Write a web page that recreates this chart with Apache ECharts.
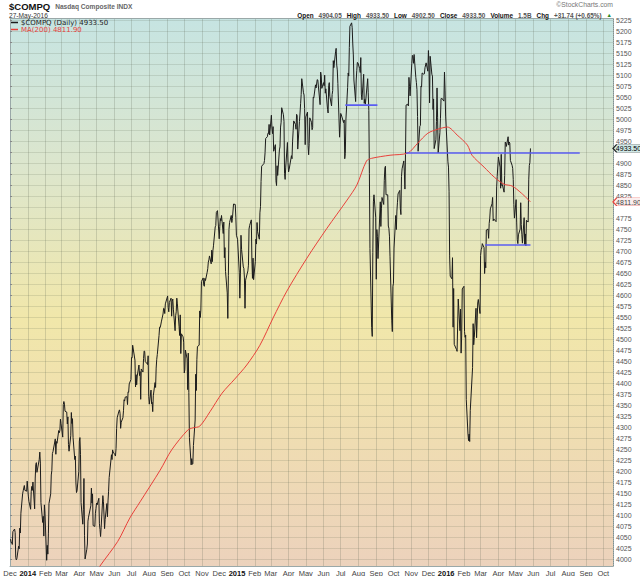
<!DOCTYPE html>
<html><head><meta charset="utf-8">
<script src="https://cdn.jsdelivr.net/npm/echarts@6/dist/echarts.min.js"></script>
<style>html,body{margin:0;padding:0;background:#fff}#c{width:640px;height:576px}</style>
</head><body><div id="c"></div>
<script>
// Daily closes ($COMPQ), [month-day, close]
const close2013 = [['12-02',4045],['12-03',4037],['12-04',4038],['12-05',4033],['12-06',4062],['12-09',4068],['12-10',4060],['12-11',4003],['12-12',3998],['12-13',4001],['12-16',4029],['12-17',4023],['12-18',4070],['12-19',4059],['12-20',4104],['12-23',4148],['12-24',4155],['12-26',4167],['12-27',4156],['12-30',4154],['12-31',4177]];
const close2014 = [
['01-02',4143],['01-03',4131],['01-06',4113],['01-07',4153],['01-08',4165],['01-09',4156],['01-10',4175],['01-13',4114],['01-14',4184],['01-15',4215],['01-16',4219],['01-17',4197],['01-21',4226],['01-22',4243],['01-23',4218],['01-24',4128],['01-27',4083],['01-28',4097],['01-29',4052],['01-30',4123],['01-31',4104],
['02-03',3997],['02-04',4031],['02-05',4011],['02-06',4057],['02-07',4126],['02-10',4148],['02-11',4191],['02-12',4201],['02-13',4240],['02-14',4244],['02-18',4273],['02-19',4238],['02-20',4267],['02-21',4263],['02-24',4292],['02-25',4287],['02-26',4292],['02-27',4318],['02-28',4308],
['03-03',4277],['03-04',4351],['03-05',4358],['03-06',4352],['03-07',4336],['03-10',4334],['03-11',4307],['03-12',4323],['03-13',4260],['03-14',4245],['03-17',4280],['03-18',4333],['03-19',4308],['03-20',4319],['03-21',4276],['03-24',4226],['03-25',4234],['03-26',4173],['03-27',4151],['03-28',4155],['03-31',4199],
['04-01',4268],['04-02',4276],['04-03',4237],['04-04',4128],['04-07',4079],['04-08',4113],['04-09',4183],['04-10',4054],['04-11',4000],['04-14',4022],['04-15',4034],['04-16',4086],['04-17',4095],['04-21',4121],['04-22',4161],['04-23',4127],['04-24',4148],['04-25',4076],['04-28',4074],['04-29',4104],['04-30',4115],
['05-01',4127],['05-02',4123],['05-05',4138],['05-06',4080],['05-07',4067],['05-08',4051],['05-09',4071],['05-12',4144],['05-13',4130],['05-14',4100],['05-15',4069],['05-16',4090],['05-19',4126],['05-20',4096],['05-21',4132],['05-22',4154],['05-23',4185],['05-27',4237],['05-28',4226],['05-29',4248],['05-30',4243],
['06-02',4237],['06-03',4234],['06-04',4251],['06-05',4297],['06-06',4321],['06-09',4336],['06-10',4339],['06-11',4331],['06-12',4297],['06-13',4311],['06-16',4321],['06-17',4337],['06-18',4362],['06-19',4359],['06-20',4368],['06-23',4369],['06-24',4351],['06-25',4380],['06-26',4379],['06-27',4398],['06-30',4408],
['07-01',4458],['07-02',4457],['07-03',4486],['07-07',4452],['07-08',4391],['07-09',4419],['07-10',4396],['07-11',4416],['07-14',4441],['07-15',4417],['07-16',4426],['07-17',4363],['07-18',4432],['07-21',4425],['07-22',4456],['07-23',4473],['07-24',4472],['07-25',4449],['07-28',4444],['07-29',4442],['07-30',4462],['07-31',4370],
['08-01',4352],['08-04',4384],['08-05',4353],['08-06',4356],['08-07',4335],['08-08',4371],['08-11',4401],['08-12',4390],['08-13',4434],['08-14',4454],['08-15',4465],['08-18',4508],['08-19',4527],['08-20',4526],['08-21',4532],['08-22',4539],['08-25',4557],['08-26',4570],['08-27',4569],['08-28',4558],['08-29',4580],
['09-02',4598],['09-03',4572],['09-04',4562],['09-05',4583],['09-08',4593],['09-09',4552],['09-10',4586],['09-11',4591],['09-12',4568],['09-15',4519],['09-16',4553],['09-17',4562],['09-18',4593],['09-19',4580],['09-22',4528],['09-23',4508],['09-24',4555],['09-25',4467],['09-26',4512],['09-29',4505],['09-30',4493],
['10-01',4423],['10-02',4430],['10-03',4475],['10-06',4455],['10-07',4385],['10-08',4468],['10-09',4379],['10-10',4276],['10-13',4214],['10-14',4228],['10-15',4215],['10-16',4217],['10-17',4258],['10-20',4316],['10-21',4420],['10-22',4383],['10-23',4453],['10-24',4483],['10-27',4486],['10-28',4564],['10-29',4549],['10-30',4566],['10-31',4631],
['11-03',4639],['11-04',4623],['11-05',4620],['11-06',4638],['11-07',4633],['11-10',4652],['11-11',4660],['11-12',4675],['11-13',4680],['11-14',4689],['11-17',4671],['11-18',4702],['11-19',4676],['11-20',4701],['11-21',4712],['11-24',4755],['11-25',4758],['11-26',4788],['11-28',4792],
['12-01',4728],['12-02',4756],['12-03',4774],['12-04',4769],['12-05',4781],['12-08',4740],['12-09',4766],['12-10',4685],['12-11',4708],['12-12',4654],['12-15',4605],['12-16',4547],['12-17',4645],['12-18',4749],['12-19',4765],['12-22',4781],['12-23',4765],['12-24',4774],['12-26',4807],['12-29',4806],['12-30',4777],['12-31',4736]];
const close2015 = [
['01-02',4727],['01-05',4652],['01-06',4593],['01-07',4650],['01-08',4736],['01-09',4704],['01-12',4664],['01-13',4661],['01-14',4639],['01-15',4570],['01-16',4634],['01-20',4655],['01-21',4668],['01-22',4750],['01-23',4758],['01-26',4771],['01-27',4682],['01-28',4638],['01-29',4684],['01-30',4635],
['02-02',4676],['02-03',4727],['02-04',4716],['02-05',4765],['02-06',4744],['02-09',4727],['02-10',4787],['02-11',4801],['02-12',4858],['02-13',4893],['02-17',4899],['02-18',4906],['02-19',4924],['02-20',4956],['02-23',4960],['02-24',4968],['02-25',4967],['02-26',4988],['02-27',4964],
['03-02',5009],['03-03',4980],['03-04',4967],['03-05',4983],['03-06',4927],['03-09',4942],['03-10',4860],['03-11',4849],['03-12',4894],['03-13',4872],['03-16',4930],['03-17',4937],['03-18',4982],['03-19',4993],['03-20',5026],['03-23',5010],['03-24',4995],['03-25',4876],['03-26',4863],['03-27',4891],['03-30',4947],['03-31',4901],
['04-01',4880],['04-02',4886],['04-06',4917],['04-07',4910],['04-08',4950],['04-09',4974],['04-10',4996],['04-13',4988],['04-14',4977],['04-15',5011],['04-16',5008],['04-17',4932],['04-20',4995],['04-21',5014],['04-22',5035],['04-23',5056],['04-24',5092],['04-27',5060],['04-28',5055],['04-29',5024],['04-30',4942],
['05-01',5005],['05-04',5016],['05-05',4940],['05-06',4919],['05-07',4945],['05-08',5003],['05-11',4993],['05-12',4976],['05-13',4981],['05-14',5050],['05-15',5048],['05-18',5078],['05-19',5071],['05-20',5071],['05-21',5090],['05-22',5089],['05-26',5033],['05-27',5107],['05-28',5098],['05-29',5070],
['06-01',5083],['06-02',5076],['06-03',5100],['06-04',5059],['06-05',5069],['06-08',5022],['06-09',5014],['06-10',5076],['06-11',5083],['06-12',5052],['06-15',5030],['06-16',5056],['06-17',5065],['06-18',5133],['06-19',5117],['06-22',5153],['06-23',5161],['06-24',5123],['06-25',5112],['06-26',5081],['06-29',4959],['06-30',4987],
['07-01',5013],['07-02',5010],['07-06',4992],['07-07',4998],['07-08',4910],['07-09',4922],['07-10',4998],['07-13',5072],['07-14',5105],['07-15',5098],['07-16',5163],['07-17',5211],['07-20',5219],['07-21',5208],['07-22',5171],['07-23',5146],['07-24',5089],['07-27',5040],['07-28',5089],['07-29',5111],['07-30',5129],['07-31',5128],
['08-03',5115],['08-04',5106],['08-05',5140],['08-06',5057],['08-07',5044],['08-10',5102],['08-11',5036],['08-12',5045],['08-13',5034],['08-14',5048],['08-17',5092],['08-18',5060],['08-19',5020],['08-20',4877],['08-21',4706],['08-24',4526],['08-25',4506],['08-26',4697],['08-27',4812],['08-28',4828],['08-31',4777],
['09-01',4636],['09-02',4749],['09-03',4733],['09-04',4683],['09-08',4812],['09-09',4756],['09-10',4796],['09-11',4822],['09-14',4806],['09-15',4861],['09-16',4889],['09-17',4893],['09-18',4828],['09-21',4828],['09-22',4757],['09-23',4752],['09-24',4734],['09-25',4687],['09-28',4543],['09-29',4517],['09-30',4620],
['10-01',4627],['10-02',4707],['10-05',4781],['10-06',4749],['10-07',4791],['10-08',4811],['10-09',4830],['10-12',4838],['10-13',4796],['10-14',4783],['10-15',4870],['10-16',4887],['10-19',4905],['10-20',4880],['10-21',4841],['10-22',4920],['10-23',5032],['10-26',5034],['10-27',5030],['10-28',5095],['10-29',5074],['10-30',5053],
['11-02',5127],['11-03',5145],['11-04',5142],['11-05',5127],['11-06',5147],['11-09',5095],['11-10',5083],['11-11',5067],['11-12',5006],['11-13',4927],['11-16',4984],['11-17',4986],['11-18',5075],['11-19',5073],['11-20',5105],['11-23',5102],['11-24',5103],['11-25',5117],['11-27',5128],['11-30',5109],
['12-01',5156],['12-02',5123],['12-03',5037],['12-04',5143],['12-07',5102],['12-08',5098],['12-09',5022],['12-10',5046],['12-11',4933],['12-14',4953],['12-15',4995],['12-16',5071],['12-17',5003],['12-18',4923],['12-21',4969],['12-22',5002],['12-23',5046],['12-24',5048],['12-28',5041],['12-29',5107],['12-30',5066],['12-31',5007]];
const close2016 = [
['01-04',4903],['01-05',4891],['01-06',4835],['01-07',4689],['01-08',4643],['01-11',4637],['01-12',4685],['01-13',4527],['01-14',4615],['01-15',4488],['01-19',4476],['01-20',4472],['01-21',4472],['01-22',4591],['01-25',4519],['01-26',4568],['01-27',4468],['01-28',4507],['01-29',4614],
['02-01',4620],['02-02',4517],['02-03',4504],['02-04',4509],['02-05',4363],['02-08',4284],['02-09',4269],['02-10',4284],['02-11',4267],['02-12',4338],['02-16',4435],['02-17',4535],['02-18',4487],['02-19',4504],['02-22',4570],['02-23',4503],['02-24',4543],['02-25',4582],['02-26',4590],['02-29',4558],
['03-01',4690],['03-02',4703],['03-03',4707],['03-04',4717],['03-07',4708],['03-08',4649],['03-09',4675],['03-10',4662],['03-11',4748],['03-14',4750],['03-15',4729],['03-16',4763],['03-17',4775],['03-18',4796],['03-21',4808],['03-22',4822],['03-23',4769],['03-24',4773],['03-28',4767],['03-29',4846],['03-30',4870],['03-31',4870],
['04-01',4914],['04-04',4891],['04-05',4843],['04-06',4920],['04-07',4849],['04-08',4851],['04-11',4834],['04-12',4872],['04-13',4948],['04-14',4946],['04-15',4938],['04-18',4960],['04-19',4941],['04-20',4948],['04-21',4945],['04-22',4906],['04-25',4895],['04-26',4888],['04-27',4863],['04-28',4806],['04-29',4775],
['05-02',4817],['05-03',4764],['05-04',4726],['05-05',4717],['05-06',4737],['05-09',4750],['05-10',4810],['05-11',4760],['05-12',4737],['05-13',4718],['05-16',4776],['05-17',4715],['05-18',4739],['05-19',4712],['05-20',4770],['05-23',4766],['05-24',4862],['05-25',4895],['05-26',4901],['05-27',4933.5]];
// 200-day moving average
const ma200 = [['2014-05-01',3970],['2014-05-07',3984],['2014-06-07',4040],['2014-06-28',4093],['2014-07-16',4130],['2014-08-20',4202],['2014-09-09',4248],['2014-10-07',4293],['2014-10-16',4298],['2014-10-28',4302],['2014-11-15',4335],['2014-12-06',4377],['2014-12-28',4409],['2015-01-18',4441],['2015-02-10',4486],['2015-03-05',4548],['2015-03-29',4609],['2015-05-03',4684],['2015-06-07',4752],['2015-07-12',4816],['2015-07-29',4850],['2015-08-15',4905],['2015-08-24',4911],['2015-09-25',4918],['2015-10-26',4923],['2015-11-12',4945],['2015-11-30',4968],['2015-12-17',4977],['2016-01-03',4982],['2016-01-20',4964],['2016-02-07',4941],['2016-02-15',4918],['2016-03-07',4891],['2016-03-25',4868],['2016-04-11',4852],['2016-04-25',4848],['2016-05-11',4832],['2016-05-27',4811.9]];
// horizontal blue support/resistance lines
const level1 = [['2015-07-09',5032],['2015-09-03',5032]];
const level2 = [['2015-10-23',4923],['2016-08-21',4923]];
const level3 = [['2016-03-09',4714],['2016-05-27',4714]];
const yTickMin = 4000, yTickMax = 5225, yTickStep = 25;
const monthNames = ['Jan','Feb','Mar','Apr','May','Jun','Jul','Aug','Sep','Oct','Nov','Dec'];
const headerFields = [['Open','4904.05'],['High','4933.50'],['Low','4902.50'],['Close','4933.50'],['Volume','1.5B'],['Chg','+31.74 (+0.65%)']];

const withYear = (y, arr) => arr.map(([md, v]) => [y + '-' + md, v]);
const closeData = [].concat(withYear(2013, close2013), withYear(2014, close2014), withYear(2015, close2015), withYear(2016, close2016));
const lastClose = closeData[closeData.length - 1][1];
const lastMA = ma200[ma200.length - 1][1];
const xMin = new Date(2013, 11, 1).getTime();
const xMax = new Date(2016, 9, 18).getTime();

const FF = 'Liberation Sans, Arial, sans-serif';
const chart = echarts.init(document.getElementById('c'), null, {renderer: 'svg'});
const closeName = '$COMPQ (Daily) ' + lastClose.toFixed(2);
const maName = 'MA(200) ' + lastMA.toFixed(2);
const tagPath = 'path://M0,4 L4,0 L32,0 L32,8 L4,8 Z';
// axis labels that sit under the value tags are covered in the original
const coveredByTag = v => Math.abs(v - lastClose) < yTickStep / 2 || Math.abs(v - lastMA) < yTickStep / 2;

const headerText = headerFields.map(([k, v]) => '{b|' + k + '} {v|' + v + '}').join(' ') + ' {g|▲}';

chart.setOption({
  animation: false,
  backgroundColor: '#ffffff',
  textStyle: {fontFamily: FF},
  title: [
    {text: '{a|$COMPQ} {b|Nasdaq Composite INDX}', left: 9, top: 1, padding: 0,
     textStyle: {lineHeight: 10, rich: {a: {fontSize: 9.5, lineHeight: 10, fontWeight: 'bold', color: '#111', fontFamily: FF}, b: {fontSize: 6.6, lineHeight: 10, color: '#666', fontFamily: FF}}}},
    {text: '27-May-2016', left: 9, top: 12, padding: 0, textStyle: {fontSize: 6.6, lineHeight: 7, color: '#333', fontWeight: 'normal', fontFamily: FF}},
    {text: headerText, right: 28, top: 11, padding: 0,
     textStyle: {lineHeight: 8, rich: {b: {fontSize: 6.4, lineHeight: 8, fontWeight: 'bold', color: '#111', fontFamily: FF}, v: {fontSize: 6.4, lineHeight: 8, color: '#555', fontFamily: FF}, g: {fontSize: 5.5, lineHeight: 8, color: '#2a8a2a'}}}},
    {text: '©StockCharts.com', right: 27, top: 1, padding: 0, textStyle: {fontSize: 6.8, lineHeight: 7, color: '#777', fontWeight: 'normal', fontFamily: FF}}
  ],
  legend: {
    left: 11, top: 19, orient: 'vertical', padding: 0, itemGap: 0, itemWidth: 7, itemHeight: 1.5,
    icon: 'rect', selectedMode: false,
    textStyle: {fontSize: 7, fontFamily: 'DejaVu Sans, sans-serif', padding: [0, 0, 0, -2], lineHeight: 7},
    data: [{name: closeName, textStyle: {color: '#222'}}, {name: maName, textStyle: {color: '#e8403a'}}]
  },
  grid: [
    {left: 10, right: 27, top: 18, bottom: 10, show: true, z: -1, borderWidth: 0, outerBoundsMode: 'none',
     backgroundColor: new echarts.graphic.LinearGradient(0, 0, 0, 1, [
       {offset: 0, color: '#c6e4e2'}, {offset: 0.28, color: '#dde6cc'}, {offset: 0.55, color: '#f1e7aa'},
       {offset: 0.78, color: '#efdcb2'}, {offset: 1, color: '#ecd2bc'}])},
    {left: 10, right: 27, top: 20, bottom: 17, show: false, outerBoundsMode: 'none'}
  ],
  xAxis: [
    {type: 'time', gridIndex: 0, min: xMin, max: xMax, splitNumber: 34,
     minInterval: 28 * 864e5, maxInterval: 31 * 864e5,
     axisLine: {show: true, lineStyle: {color: '#9aa8a8', width: 1}},
     axisTick: {show: false},
     splitLine: {show: true, lineStyle: {color: 'rgba(90,100,80,0.22)', width: 1}},
     axisLabel: {show: true, margin: 3, fontSize: 7.5, color: '#444', hideOverlap: false, showMaxLabel: false,
       formatter: function (val) {
         const d = new Date(val);
         if (d.getDate() !== 1) return '';
         return d.getMonth() === 0 ? '{y|' + d.getFullYear() + '}' : '{m|' + monthNames[d.getMonth()] + '}';
       },
       rich: {y: {fontSize: 7.5, fontWeight: 'bold', color: '#111', fontFamily: FF}, m: {fontSize: 7.5, color: '#444', fontFamily: FF}}}},
    {type: 'time', gridIndex: 0, position: 'top', min: xMin, max: xMax,
     axisLine: {show: true, lineStyle: {color: '#9aa8a8', width: 1}}, axisTick: {show: false}, axisLabel: {show: false}, splitLine: {show: false}},
    {type: 'value', gridIndex: 1, show: false, min: 0, max: 1}
  ],
  yAxis: [
    {type: 'value', gridIndex: 0, position: 'left', min: 3984, max: 5230,
     axisLine: {show: true, lineStyle: {color: '#9aa8a8', width: 1}}, axisTick: {show: false}, axisLabel: {show: false}, splitLine: {show: false}},
    {type: 'value', gridIndex: 1, position: 'right', min: yTickMin, max: yTickMax, interval: yTickStep,
     axisLine: {show: false}, axisTick: {show: true, length: 2, lineStyle: {color: '#888'}},
     axisLabel: {show: true, margin: 3, fontSize: 7, color: '#555', fontFamily: FF, formatter: v => coveredByTag(v) ? '' : String(v)},
     splitLine: {show: true, lineStyle: {color: 'rgba(90,100,80,0.17)', width: 1}}},
    {type: 'value', gridIndex: 0, position: 'right', min: 3984, max: 5230,
     axisLine: {show: true, lineStyle: {color: '#7f9090', width: 1, type: [1, 1]}}, axisTick: {show: false}, axisLabel: {show: false}, splitLine: {show: false}}
  ],
  series: [
    {name: closeName, type: 'line', xAxisIndex: 0, yAxisIndex: 0, data: closeData, showSymbol: false, symbol: 'none',
     lineStyle: {color: '#1c1c1c', width: 1}, itemStyle: {color: '#1c1c1c'}, z: 3,
     markPoint: {symbol: tagPath, symbolSize: [29, 8], symbolOffset: [14.5, 0], symbolKeepAspect: false, silent: true,
       itemStyle: {color: '#cfe8e6', borderColor: '#222', borderWidth: 0.8},
       label: {show: true, position: 'inside', fontSize: 7, color: '#000', fontFamily: FF, offset: [1, 0.5], formatter: lastClose.toFixed(2)},
       data: [{coord: [xMax, lastClose], value: lastClose}]}},
    {name: maName, type: 'line', xAxisIndex: 0, yAxisIndex: 0, data: ma200, showSymbol: false, symbol: 'none', smooth: 0.3,
     lineStyle: {color: '#e8403a', width: 1}, itemStyle: {color: '#e8403a'}, z: 4,
     markPoint: {symbol: tagPath, symbolSize: [29, 8], symbolOffset: [14.5, 0], symbolKeepAspect: false, silent: true,
       itemStyle: {color: '#fbeeee', borderColor: '#e8403a', borderWidth: 0.8},
       label: {show: true, position: 'inside', fontSize: 7, color: '#444', fontFamily: FF, offset: [1, 0.5], formatter: lastMA.toFixed(2)},
       data: [{coord: [xMax, lastMA], value: lastMA}]}},
    {name: 'L1', type: 'line', data: level1, showSymbol: false, symbol: 'none', lineStyle: {color: '#5a5cf2', width: 1.6}, z: 5},
    {name: 'L2', type: 'line', data: level2, showSymbol: false, symbol: 'none', lineStyle: {color: '#5a5cf2', width: 1.6}, z: 5},
    {name: 'L3', type: 'line', data: level3, showSymbol: false, symbol: 'none', lineStyle: {color: '#5a5cf2', width: 1.6}, z: 5}
  ]
});
</script></body></html>
